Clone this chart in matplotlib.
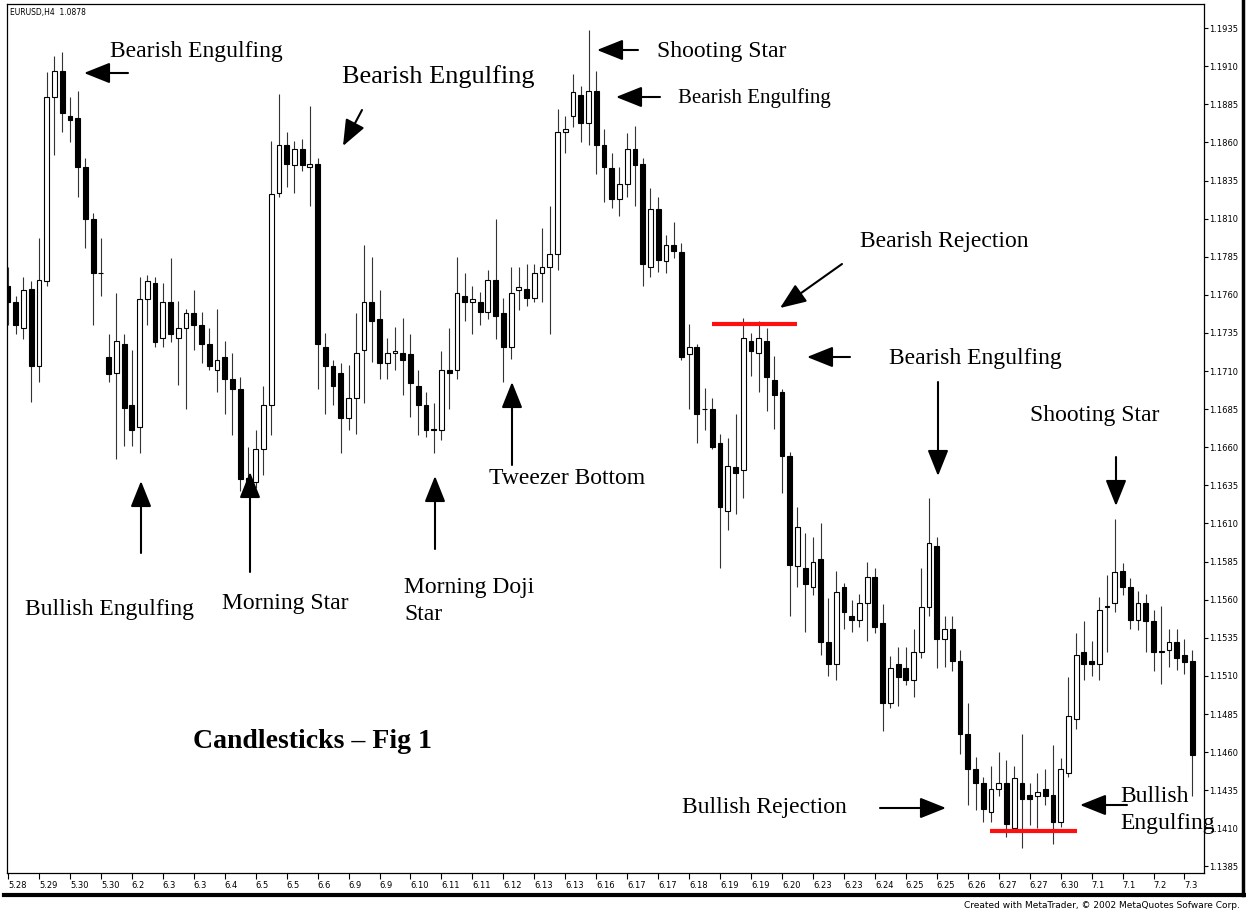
import numpy as np
import matplotlib.pyplot as plt
from matplotlib.lines import Line2D

W, H = 1246, 916

# EURUSD H4 - open, high, low, close
opens = [1.1766, 1.1755, 1.1738, 1.1764, 1.1713, 1.1769, 1.1890, 1.1907, 1.1877, 1.1876,
         1.1844, 1.1810, 1.1774, 1.1719, 1.1709, 1.1728, 1.1688, 1.1673, 1.1757, 1.1768,
         1.1732, 1.1755, 1.1732, 1.1738, 1.1748, 1.1740, 1.1728, 1.1711, 1.1719, 1.1705,
         1.1698, 1.1640, 1.1637, 1.1659, 1.1688, 1.1827, 1.1858, 1.1845, 1.1856, 1.1844,
         1.1846, 1.1726, 1.1713, 1.1709, 1.1679, 1.1692, 1.1724, 1.1755, 1.1744, 1.1715,
         1.1722, 1.1722, 1.1721, 1.1700, 1.1688, 1.1672, 1.1671, 1.1711, 1.1711, 1.1759,
         1.1755, 1.1755, 1.1749, 1.1770, 1.1748, 1.1726, 1.1763, 1.1764, 1.1758, 1.1774,
         1.1778, 1.1787, 1.1867, 1.1877, 1.1891, 1.1873, 1.1894, 1.1858, 1.1843, 1.1823,
         1.1833, 1.1856, 1.1846, 1.1778, 1.1816, 1.1782, 1.1793, 1.1788, 1.1721, 1.1726,
         1.1685, 1.1685, 1.1663, 1.1618, 1.1647, 1.1645, 1.1730, 1.1722, 1.1730, 1.1704,
         1.1696, 1.1654, 1.1582, 1.1581, 1.1568, 1.1587, 1.1532, 1.1518, 1.1568, 1.1549,
         1.1547, 1.1558, 1.1575, 1.1545, 1.1492, 1.1518, 1.1515, 1.1507, 1.1526, 1.1555,
         1.1595, 1.1534, 1.1541, 1.1520, 1.1472, 1.1449, 1.1440, 1.1421, 1.1436, 1.1440,
         1.1410, 1.1440, 1.1432, 1.1431, 1.1436, 1.1432, 1.1414, 1.1446, 1.1482, 1.1526,
         1.1520, 1.1518, 1.1555, 1.1558, 1.1579, 1.1568, 1.1547, 1.1558, 1.1546, 1.1526,
         1.1527, 1.1532, 1.1524, 1.1520]
highs = [1.1778, 1.1759, 1.1772, 1.1769, 1.1797, 1.1906, 1.1917, 1.1919, 1.1890, 1.1894,
         1.1850, 1.1814, 1.1797, 1.1734, 1.1761, 1.1734, 1.1724, 1.1772, 1.1773, 1.1772,
         1.1768, 1.1784, 1.1756, 1.1751, 1.1763, 1.1749, 1.1738, 1.1751, 1.1730, 1.1722,
         1.1706, 1.1660, 1.1671, 1.1700, 1.1861, 1.1892, 1.1867, 1.1861, 1.1862, 1.1884,
         1.1850, 1.1735, 1.1717, 1.1715, 1.1714, 1.1748, 1.1793, 1.1785, 1.1763, 1.1732,
         1.1739, 1.1745, 1.1734, 1.1711, 1.1696, 1.1689, 1.1723, 1.1738, 1.1785, 1.1774,
         1.1766, 1.1762, 1.1776, 1.1810, 1.1758, 1.1778, 1.1778, 1.1780, 1.1780, 1.1804,
         1.1818, 1.1882, 1.1877, 1.1905, 1.1897, 1.1934, 1.1907, 1.1869, 1.1853, 1.1844,
         1.1866, 1.1871, 1.1850, 1.1830, 1.1824, 1.1799, 1.1808, 1.1794, 1.1741, 1.1728,
         1.1699, 1.1692, 1.1669, 1.1666, 1.1682, 1.1745, 1.1735, 1.1743, 1.1738, 1.1720,
         1.1698, 1.1657, 1.1621, 1.1604, 1.1601, 1.1610, 1.1561, 1.1579, 1.1571, 1.1560,
         1.1564, 1.1585, 1.1581, 1.1557, 1.1523, 1.1529, 1.1529, 1.1541, 1.1581, 1.1627,
         1.1601, 1.1549, 1.1549, 1.1527, 1.1492, 1.1457, 1.1444, 1.1451, 1.1460, 1.1455,
         1.1451, 1.1472, 1.1440, 1.1446, 1.1449, 1.1465, 1.1456, 1.1509, 1.1538, 1.1546,
         1.1533, 1.1562, 1.1576, 1.1613, 1.1584, 1.1574, 1.1566, 1.1564, 1.1553, 1.1556,
         1.1541, 1.1541, 1.1534, 1.1527]
lows = [1.1740, 1.1734, 1.1731, 1.1690, 1.1703, 1.1766, 1.1852, 1.1867, 1.1860, 1.1824,
        1.1791, 1.1740, 1.1759, 1.1703, 1.1652, 1.1661, 1.1661, 1.1656, 1.1740, 1.1726,
        1.1726, 1.1729, 1.1701, 1.1685, 1.1724, 1.1715, 1.1711, 1.1696, 1.1682, 1.1668,
        1.1631, 1.1631, 1.1633, 1.1642, 1.1668, 1.1824, 1.1831, 1.1827, 1.1841, 1.1818,
        1.1698, 1.1682, 1.1688, 1.1656, 1.1671, 1.1669, 1.1689, 1.1716, 1.1705, 1.1705,
        1.1711, 1.1694, 1.1680, 1.1668, 1.1667, 1.1656, 1.1665, 1.1685, 1.1705, 1.1743,
        1.1734, 1.1740, 1.1744, 1.1731, 1.1703, 1.1718, 1.1750, 1.1753, 1.1755, 1.1755,
        1.1734, 1.1776, 1.1853, 1.1870, 1.1860, 1.1858, 1.1839, 1.1821, 1.1817, 1.1812,
        1.1824, 1.1818, 1.1766, 1.1772, 1.1775, 1.1774, 1.1784, 1.1717, 1.1685, 1.1663,
        1.1671, 1.1659, 1.1581, 1.1606, 1.1616, 1.1627, 1.1707, 1.1696, 1.1684, 1.1672,
        1.1630, 1.1549, 1.1568, 1.1539, 1.1563, 1.1524, 1.1510, 1.1507, 1.1541, 1.1539,
        1.1542, 1.1533, 1.1538, 1.1474, 1.1489, 1.1490, 1.1504, 1.1496, 1.1522, 1.1549,
        1.1515, 1.1516, 1.1513, 1.1459, 1.1425, 1.1422, 1.1414, 1.1414, 1.1431, 1.1404,
        1.1409, 1.1397, 1.1412, 1.1410, 1.1425, 1.1400, 1.1411, 1.1444, 1.1475, 1.1507,
        1.1510, 1.1507, 1.1526, 1.1552, 1.1563, 1.1541, 1.1540, 1.1526, 1.1513, 1.1505,
        1.1516, 1.1514, 1.1511, 1.1431]
closes = [1.1755, 1.1740, 1.1763, 1.1713, 1.1770, 1.1890, 1.1907, 1.1879, 1.1875, 1.1844,
          1.1810, 1.1774, 1.1774, 1.1708, 1.1730, 1.1686, 1.1671, 1.1757, 1.1769, 1.1729,
          1.1755, 1.1734, 1.1738, 1.1748, 1.1740, 1.1728, 1.1713, 1.1717, 1.1705, 1.1698,
          1.1639, 1.1635, 1.1659, 1.1688, 1.1826, 1.1858, 1.1846, 1.1856, 1.1845, 1.1846,
          1.1728, 1.1713, 1.1700, 1.1679, 1.1692, 1.1722, 1.1755, 1.1743, 1.1715, 1.1722,
          1.1723, 1.1717, 1.1702, 1.1688, 1.1671, 1.1671, 1.1711, 1.1709, 1.1761, 1.1755,
          1.1757, 1.1749, 1.1770, 1.1746, 1.1726, 1.1761, 1.1765, 1.1758, 1.1774, 1.1778,
          1.1787, 1.1867, 1.1869, 1.1893, 1.1873, 1.1894, 1.1858, 1.1844, 1.1823, 1.1833,
          1.1856, 1.1845, 1.1780, 1.1816, 1.1783, 1.1793, 1.1789, 1.1719, 1.1726, 1.1682,
          1.1685, 1.1660, 1.1621, 1.1648, 1.1643, 1.1732, 1.1723, 1.1732, 1.1706, 1.1694,
          1.1654, 1.1583, 1.1608, 1.1570, 1.1585, 1.1532, 1.1518, 1.1565, 1.1552, 1.1547,
          1.1558, 1.1575, 1.1542, 1.1492, 1.1515, 1.1509, 1.1507, 1.1526, 1.1555, 1.1597,
          1.1534, 1.1541, 1.1520, 1.1472, 1.1449, 1.1440, 1.1423, 1.1436, 1.1440, 1.1413,
          1.1443, 1.1429, 1.1429, 1.1434, 1.1431, 1.1414, 1.1449, 1.1484, 1.1524, 1.1518,
          1.1518, 1.1553, 1.1556, 1.1578, 1.1568, 1.1547, 1.1558, 1.1546, 1.1526, 1.1526,
          1.1532, 1.1522, 1.1519, 1.1458]

date_labels = ["5.28", "5.29", "5.30", "5.30", "6.2", "6.3", "6.3", "6.4", "6.5", "6.5",
               "6.6", "6.9", "6.9", "6.10", "6.11", "6.11", "6.12", "6.13", "6.13", "6.16",
               "6.17", "6.17", "6.18", "6.19", "6.19", "6.20", "6.23", "6.23", "6.24", "6.25",
               "6.25", "6.26", "6.27", "6.27", "6.30", "7.1", "7.1", "7.2", "7.3"]
price_ticks = [1.1385, 1.1410, 1.1435, 1.1460, 1.1485, 1.1510, 1.1535, 1.1560, 1.1585,
               1.1610, 1.1635, 1.1660, 1.1685, 1.1710, 1.1735, 1.1760, 1.1785, 1.1810,
               1.1835, 1.1860, 1.1885, 1.1910, 1.1935]

rejection_high = 1.1741
rejection_low = 1.1408

SERIF = "Liberation Serif"


def fpx(x, y):
    # pixel position measured from the top-left corner -> figure pixels
    return (x, H - y)


fig = plt.figure(figsize=(W / 100, H / 100), dpi=100)
ax = fig.add_axes([7 / W, 1 - 873 / H, (1204 - 7) / W, (873 - 4) / H])

o = np.array(opens)
c = np.array(closes)
x = np.arange(len(o))

ax.vlines(x, lows, highs, color="#333333", lw=0.8, zorder=2)
bottoms = np.minimum(o, c)
heights = np.maximum(np.abs(c - o), 0.00003)
colors = ["black" if cc <= oo else "white" for oo, cc in zip(o, c)]
ax.bar(x, heights, width=0.62, bottom=bottoms, color=colors,
       edgecolor="black", lw=0.8, zorder=3)

ax.hlines(rejection_high, 90.9, 101.9, color="#ff1010", lw=3, zorder=4)
ax.hlines(rejection_low, 126.9, 138.1, color="#ff1010", lw=3, zorder=4)

ax.set_xlim(-0.13, 154.52)
ax.set_ylim(1.13807, 1.19508)

ax.set_xticks(x[::4])
ax.set_xticklabels(date_labels, ha="left", fontsize=6)
ax.tick_params(axis="x", length=4, pad=2, width=0.8)
ax.yaxis.tick_right()
ax.set_yticks(price_ticks)
ax.set_yticklabels([f"{v:.4f}" for v in price_ticks], fontsize=6)
ax.tick_params(axis="y", length=3, pad=1, width=0.8)
for s in ax.spines.values():
    s.set_linewidth(0.9)

# annotations
labels = [
    ("Bearish Engulfing", 110, 51, 17),
    ("Bearish Engulfing", 342, 77, 19),
    ("Shooting Star", 657, 52, 17),
    ("Bearish Engulfing", 678, 98, 15),
    ("Bearish Rejection", 860, 242, 17),
    ("Bearish Engulfing", 889, 358, 17),
    ("Shooting Star", 1030, 416, 17),
    ("Tweezer Bottom", 489, 479, 17),
    ("Bullish Engulfing", 25, 609, 17),
    ("Morning Star", 222, 604, 17),
    ("Bullish Rejection", 682, 808, 17),
]
for txt, lx, ly, size in labels:
    fig.text(lx / W, 1 - ly / H, txt, fontfamily=SERIF, fontsize=size,
             ha="left", va="center")

# two-line labels, lines set ~27 px apart as in the picture
fig.text(404 / W, 1 - 601 / H, "Morning Doji\nStar", fontfamily=SERIF, fontsize=17,
         ha="left", va="center", linespacing=1.42)
fig.text(1120 / W, 1 - 810 / H, "Bullish\nEngulfing", fontfamily=SERIF, fontsize=17,
         ha="left", va="center", linespacing=1.38)

fig.text(193 / W, 1 - 742 / H, "Candlesticks – Fig 1", fontfamily=SERIF,
         fontsize=20, fontweight="bold", ha="left", va="center")

arrows = [
    ((128, 73), (84, 73)),
    ((362, 110), (343, 146)),
    ((638, 50), (597, 50)),
    ((660, 97), (616, 97)),
    ((842, 264), (780, 308)),
    ((850, 357), (807, 357)),
    ((938, 382), (938, 476)),
    ((1116, 457), (1116, 506)),
    ((512, 465), (512, 382)),
    ((141, 553), (141, 481)),
    ((250, 572), (250, 472)),
    ((435, 549), (435, 476)),
    ((880, 808), (946, 808)),
    ((1127, 805), (1080, 805)),
]
for tail, head in arrows:
    ax.annotate("", xy=fpx(*head), xytext=fpx(*tail),
                xycoords="figure pixels", textcoords="figure pixels",
                arrowprops=dict(arrowstyle="-|>,head_length=0.8,head_width=0.32",
                                color="black", lw=1.5, shrinkA=0, shrinkB=0,
                                mutation_scale=20))

fig.text(10 / W, 1 - 12 / H, "EURUSD,H4  1.0878", fontsize=5.5, ha="left", va="center")
fig.text(1240 / W, 1 - 906 / H, "Created with MetaTrader, © 2002 MetaQuotes Sofware Corp.",
         fontsize=6.5, ha="right", va="center")

# outer window frame
fig.add_artist(Line2D([1243 / W, 1243 / W], [1 - 895 / H, 1.0], color="black", lw=2.5,
                      transform=fig.transFigure))
fig.add_artist(Line2D([4 / W, 1244 / W], [1 - 895 / H, 1 - 895 / H], color="black", lw=3,
                      transform=fig.transFigure))

fig.savefig("out.png", dpi=100)
